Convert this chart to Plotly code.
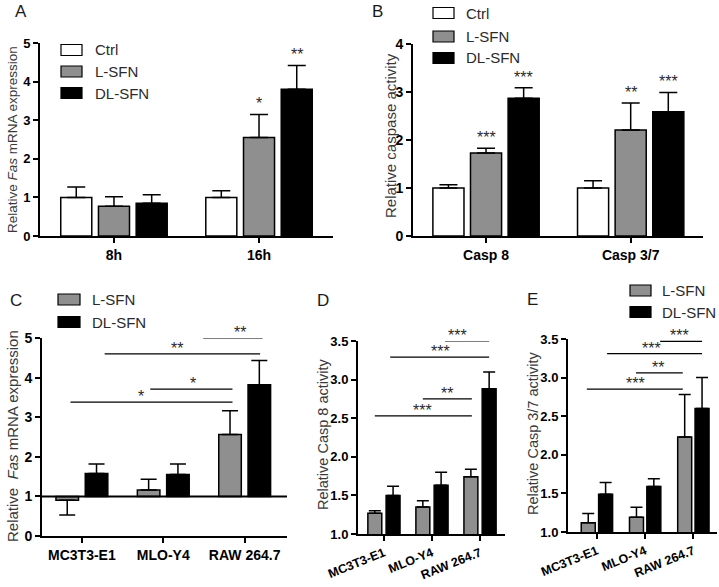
import plotly.graph_objects as go

# ---------------- DATA ----------------
series = ["Ctrl", "L-SFN", "DL-SFN"]

# Panel A: relative Fas mRNA expression by time
a_groups = ["8h", "16h"]
a_ctrl = [1.00, 1.00]
a_ctrl_err = [0.27, 0.17]
a_lsfn = [0.77, 2.55]
a_lsfn_err = [0.25, 0.60]
a_dlsfn = [0.85, 3.80]
a_dlsfn_err = [0.22, 0.62]
a_ctrl_sig = ["", ""]
a_lsfn_sig = ["", "*"]
a_dlsfn_sig = ["", "**"]

# Panel B: relative caspase activity
b_groups = ["Casp 8", "Casp 3/7"]
b_ctrl = [1.00, 1.00]
b_ctrl_err = [0.07, 0.15]
b_lsfn = [1.73, 2.21]
b_lsfn_err = [0.10, 0.56]
b_dlsfn = [2.87, 2.59]
b_dlsfn_err = [0.22, 0.40]
b_ctrl_sig = ["", ""]
b_lsfn_sig = ["***", "**"]
b_dlsfn_sig = ["***", "***"]

cells = ["MC3T3-E1", "MLO-Y4", "RAW 264.7"]

# Panel C: relative Fas mRNA expression by cell line (baseline 1)
c_lsfn = [0.90, 1.16, 2.56]
c_lsfn_err = [0.37, 0.27, 0.60]
c_dlsfn = [1.58, 1.55, 3.82]
c_dlsfn_err = [0.24, 0.27, 0.61]
c_sig_x0 = [1.49, 0.28, 0.84, -0.14]
c_sig_x1 = [2.22, 2.19, 1.85, 1.85]
c_sig_y = [5.00, 4.60, 3.71, 3.38]
c_sig_star_x = [1.94, 1.17, 1.37, 0.73]
c_sig_label = ["**", "**", "*", "*"]

# Panel D: relative Casp 8 activity
d_lsfn = [1.27, 1.35, 1.74]
d_lsfn_err = [0.03, 0.08, 0.10]
d_dlsfn = [1.50, 1.63, 2.88]
d_dlsfn_err = [0.12, 0.17, 0.22]
d_sig_x0 = [1.27, 0.13, 0.81, -0.19]
d_sig_x1 = [2.19, 2.19, 1.83, 1.83]
d_sig_y = [3.50, 3.29, 2.75, 2.53]
d_sig_star_x = [1.54, 1.17, 1.31, 0.81]
d_sig_label = ["***", "***", "**", "***"]

# Panel E: relative Casp 3/7 activity
e_lsfn = [1.12, 1.19, 2.23]
e_lsfn_err = [0.12, 0.13, 0.55]
e_dlsfn = [1.49, 1.59, 2.60]
e_dlsfn_err = [0.15, 0.10, 0.40]
e_sig_x0 = [1.31, 0.21, 0.81, -0.21]
e_sig_x1 = [2.18, 2.18, 1.78, 1.78]
e_sig_y = [3.47, 3.31, 3.06, 2.85]
e_sig_star_x = [1.72, 1.14, 1.27, 0.79]
e_sig_label = ["***", "***", "**", "***"]

# ---------------- STYLE ----------------
W, H = 719, 587
FONT = "Liberation Sans, Arial, sans-serif"
GRAY = "#8f8f8f"
COLORS = {"Ctrl": "white", "L-SFN": GRAY, "DL-SFN": "black"}
TXT = "#2a2a2a"


def px(x):
    return x / W


def py(y):
    return 1 - y / H


fig = go.Figure()
annotations = []
shapes = []


def add_bars(xa, ya, groups, vals, errs, name, center, width, capw, base=None, sig=None):
    xs = list(range(len(groups)))
    if base is None:
        yv = vals
        plus = errs
        minus = [0] * len(errs)
    else:
        yv = [v - base for v in vals]
        plus = [e if v >= base else 0 for v, e in zip(vals, errs)]
        minus = [e if v < base else 0 for v, e in zip(vals, errs)]
    fig.add_trace(go.Bar(
        x=xs, y=yv, base=base, width=width, offset=center - width / 2,
        name=name, showlegend=False, xaxis=xa, yaxis=ya,
        marker=dict(color=COLORS[name], line=dict(color="black", width=1.5)),
        error_y=dict(type="data", symmetric=False, array=plus, arrayminus=minus,
                     color="black", thickness=1.5, width=capw),
    ))
    if sig:
        for i, (v, e, s) in enumerate(zip(vals, errs, sig)):
            if s:
                annotations.append(dict(
                    x=i + center, y=v + e, xref=xa, yref=ya, text=s, showarrow=False,
                    yanchor="bottom", yshift=0, font=dict(family=FONT, size=16, color=TXT)))


def add_sig(xa, ya, x0s, x1s, ys, starx, labels):
    for x0, x1, y, sx, lab in zip(x0s, x1s, ys, starx, labels):
        shapes.append(dict(type="line", xref=xa, yref=ya, x0=x0, x1=x1, y0=y, y1=y,
                           line=dict(color="black", width=1.2)))
        annotations.append(dict(x=sx, y=y, xref=xa, yref=ya, text=lab, showarrow=False,
                                yanchor="bottom", yshift=-5,
                                font=dict(family=FONT, size=16, color=TXT)))


# Panel A
add_bars("x", "y", a_groups, a_ctrl, a_ctrl_err, "Ctrl", -0.26, 0.214, 9, sig=a_ctrl_sig)
add_bars("x", "y", a_groups, a_lsfn, a_lsfn_err, "L-SFN", 0.0, 0.214, 9, sig=a_lsfn_sig)
add_bars("x", "y", a_groups, a_dlsfn, a_dlsfn_err, "DL-SFN", 0.26, 0.214, 9, sig=a_dlsfn_sig)

# Panel B
add_bars("x2", "y2", b_groups, b_ctrl, b_ctrl_err, "Ctrl", -0.26, 0.215, 9, sig=b_ctrl_sig)
add_bars("x2", "y2", b_groups, b_lsfn, b_lsfn_err, "L-SFN", 0.0, 0.215, 9, sig=b_lsfn_sig)
add_bars("x2", "y2", b_groups, b_dlsfn, b_dlsfn_err, "DL-SFN", 0.26, 0.215, 9, sig=b_dlsfn_sig)

# Panel C
add_bars("x3", "y3", cells, c_lsfn, c_lsfn_err, "L-SFN", -0.18, 0.277, 8, base=1)
add_bars("x3", "y3", cells, c_dlsfn, c_dlsfn_err, "DL-SFN", 0.18, 0.277, 8, base=1)
add_sig("x3", "y3", c_sig_x0, c_sig_x1, c_sig_y, c_sig_star_x, c_sig_label)
shapes.append(dict(type="line", xref="x3 domain", yref="y3", x0=0, x1=1, y0=1, y1=1,
                   line=dict(color="black", width=2)))

# Panel D
add_bars("x4", "y4", cells, d_lsfn, d_lsfn_err, "L-SFN", -0.19, 0.29, 6)
add_bars("x4", "y4", cells, d_dlsfn, d_dlsfn_err, "DL-SFN", 0.19, 0.29, 6)
add_sig("x4", "y4", d_sig_x0, d_sig_x1, d_sig_y, d_sig_star_x, d_sig_label)

# Panel E
add_bars("x5", "y5", cells, e_lsfn, e_lsfn_err, "L-SFN", -0.18, 0.29, 6)
add_bars("x5", "y5", cells, e_dlsfn, e_dlsfn_err, "DL-SFN", 0.18, 0.29, 6)
add_sig("x5", "y5", e_sig_x0, e_sig_x1, e_sig_y, e_sig_star_x, e_sig_label)


def xaxis(d0, d1, rng, labels, anchor, size=14, angle=0):
    return dict(domain=[px(d0), px(d1)], range=rng, anchor=anchor, tickmode="array",
                tickvals=list(range(len(labels))), ticktext=labels, showline=True,
                linecolor="black", linewidth=2, ticks="outside", ticklen=5, tickwidth=2,
                tickcolor="black", showgrid=False, zeroline=False, tickangle=angle,
                fixedrange=True, automargin=False,
                tickfont=dict(family=FONT, size=size, color="black", weight="bold"))


def yaxis(top, bottom, rng, dtick, anchor, size=13, fmt=None):
    d = dict(domain=[py(bottom), py(top)], range=rng, anchor=anchor, dtick=dtick,
             tick0=rng[0], showline=True, linecolor="black", linewidth=2, ticks="outside",
             ticklen=5, tickwidth=2, tickcolor="black", showgrid=False, zeroline=False,
             fixedrange=True, automargin=False,
             tickfont=dict(family=FONT, size=size, color="black", weight="bold"))
    if fmt:
        d["tickformat"] = fmt
    return d


# Legends (swatches + labels)
def legend(x0, x1, ycenters, names, tx, size=15):
    for yc, nm in zip(ycenters, names):
        shapes.append(dict(type="rect", xref="paper", yref="paper",
                           x0=px(x0), x1=px(x1), y0=py(yc + 5.5), y1=py(yc - 5.5),
                           fillcolor=COLORS[nm], line=dict(color="black", width=1.2)))
        annotations.append(dict(x=px(tx), y=py(yc), xref="paper", yref="paper", text=nm,
                                showarrow=False, xanchor="left", yanchor="middle",
                                font=dict(family=FONT, size=size, color=TXT)))


legend(61, 82, [50, 71.5, 93], series, 93)
legend(433, 454, [13, 36.5, 58], series, 464)
legend(58, 80, [299.5, 322], series[1:], 90)
legend(630, 651, [290.5, 312], series[1:], 660)


def ytitle(x, y, text, size):
    annotations.append(dict(x=px(x), y=py(y), xref="paper", yref="paper", text=text,
                            textangle=-90, showarrow=False, xanchor="center", yanchor="middle",
                            font=dict(family=FONT, size=size, color="#3a3a3a")))


ytitle(13, 140, "Relative <i>Fas</i> mRNA expression", 13.5)
ytitle(390, 135, "Relative caspase activity", 15)
ytitle(12, 436, "Relative  <i>Fas</i> mRNA expression", 15)
ytitle(323, 435, "Relative Casp 8 activity", 14.5)
ytitle(533, 433, "Relative Casp 3/7 activity", 14.5)

for lab, x, y in [("A", 21, 11), ("B", 378, 11), ("C", 16, 300), ("D", 323, 300), ("E", 532, 299)]:
    annotations.append(dict(x=px(x), y=py(y), xref="paper", yref="paper", text=lab,
                            showarrow=False, xanchor="center", yanchor="middle",
                            font=dict(family=FONT, size=17, color="#1a1a1a")))

fig.update_layout(
    template="none",
    width=W, height=H, margin=dict(l=0, r=0, t=0, b=0, pad=0),
    paper_bgcolor="white", plot_bgcolor="white", barmode="overlay",
    showlegend=False, font=dict(family=FONT),
    xaxis=xaxis(40, 333, [-0.51, 1.51], a_groups, "y", 14),
    yaxis=yaxis(43, 236, [0, 5], 1, "x", 13),
    xaxis2=xaxis(413, 703, [-0.505, 1.50], b_groups, "y2", 14),
    yaxis2=yaxis(44, 236, [0, 4], 1, "x2", 14),
    xaxis3=xaxis(42, 287, [-0.49, 2.52], cells, "y3", 14),
    yaxis3=yaxis(338, 536, [0, 5], 1, "x3", 14),
    xaxis4=xaxis(358, 505, [-0.54, 2.52], cells, "y4", 12.5, -22),
    yaxis4=yaxis(341, 534, [1, 3.5], 0.5, "x4", 13, ".1f"),
    xaxis5=xaxis(568, 717, [-0.60, 2.49], cells, "y5", 12.5, -22),
    yaxis5=yaxis(339, 532, [1, 3.5], 0.5, "x5", 13, ".1f"),
    annotations=annotations, shapes=shapes,
)

fig.write_html(
    "out.html",
    config={"displayModeBar": False, "staticPlot": True},
    post_script="document.body.style.margin='0px';document.body.style.padding='0px';"
                "document.body.style.overflow='hidden';",
)
